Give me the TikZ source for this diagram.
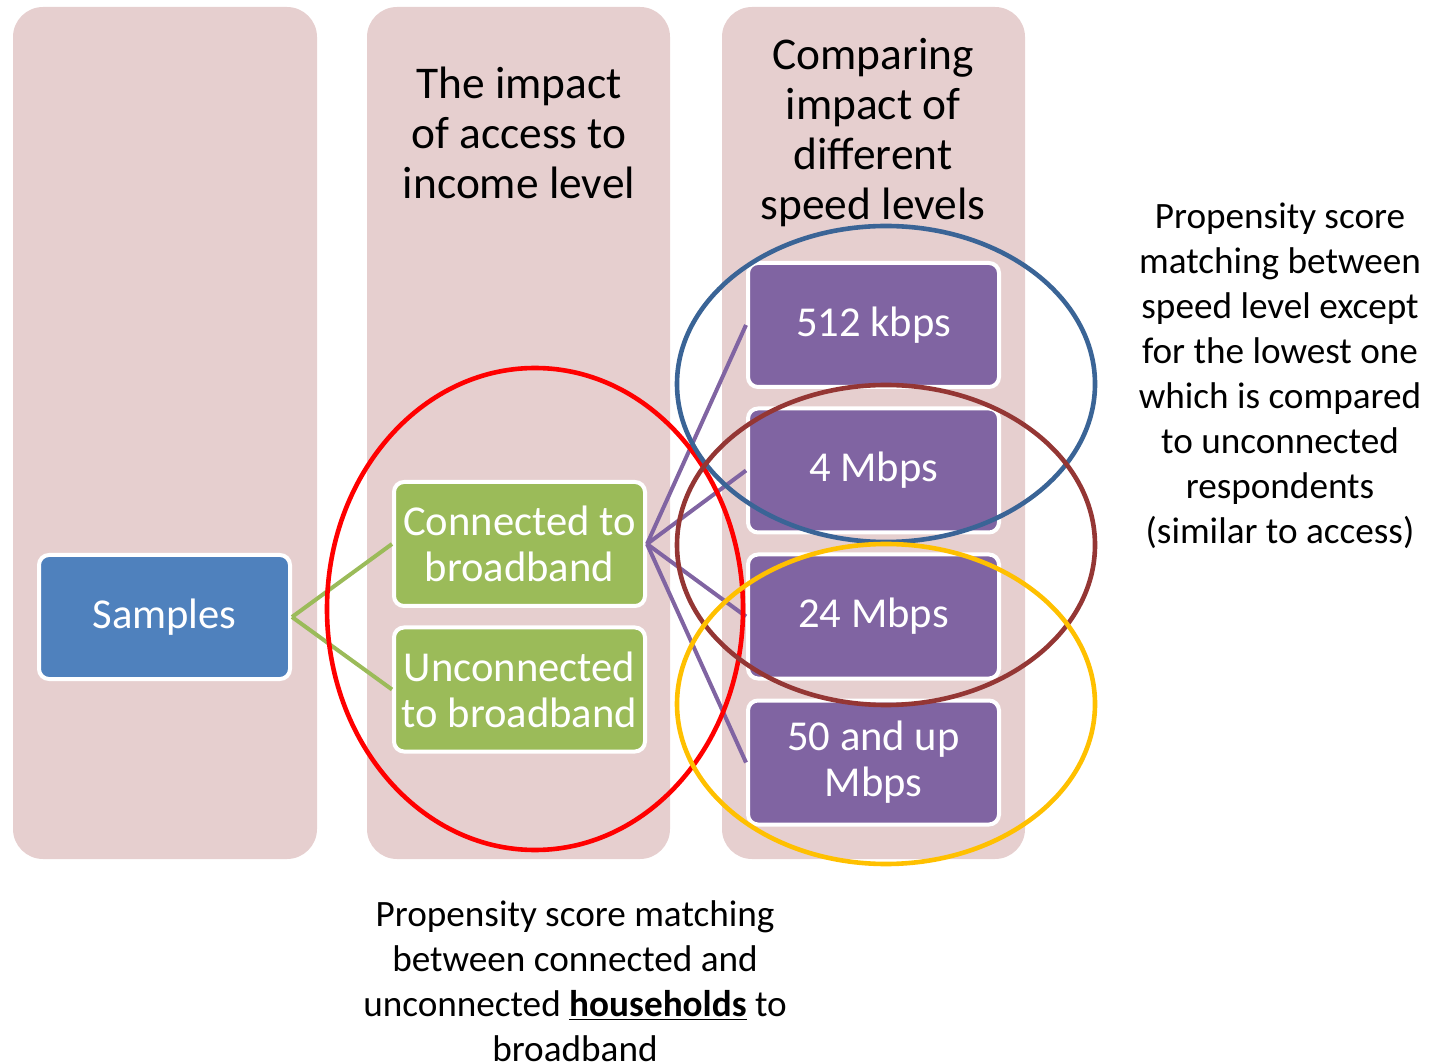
\documentclass[tikz,border=0pt]{standalone}
\usepackage{fontspec}
\setmainfont{Carlito}
\usetikzlibrary{shapes.geometric}
\definecolor{colbg}{HTML}{E6CFCF}
\definecolor{sblue}{HTML}{4F81BD}
\definecolor{sgreen}{HTML}{9BBB59}
\definecolor{spurple}{HTML}{8064A2}
\definecolor{eblue}{HTML}{3A6496}
\definecolor{ebrown}{HTML}{943634}
\definecolor{eyellow}{HTML}{FFC000}
\definecolor{ered}{HTML}{FF0000}
\tikzset{
  colbox/.style={fill=colbg, rounded corners=15pt},
  box/.style={draw=white, line width=2pt, rounded corners=5pt, minimum width=125.5pt, minimum height=62pt, text=white, align=center, font=\fontsize{21.3}{23}\selectfont, inner sep=0pt},
  bluebox/.style={box, fill=sblue},
  greenbox/.style={box, fill=sgreen},
  purplebox/.style={box, fill=spurple},
  title/.style={align=center, font=\fontsize{22.7}{25}\selectfont, text=black},
  note/.style={align=center, font=\fontsize{18.6}{22.5}\selectfont, text=black},
  glink/.style={draw=sgreen, line width=2pt},
  plink/.style={draw=spurple, line width=2pt},
  ring/.style={line width=2.3pt}
}
\begin{document}
\begin{tikzpicture}[x=0.5pt, y=-0.5pt]
\useasboundingbox (0,0) rectangle (1435,1063);
% columns
\fill[colbox] (13,7) rectangle (317,859);
\fill[colbox] (367,7) rectangle (670,859);
\fill[colbox] (722,7) rectangle (1025,859);
% titles
\node[title] (t2) at (519,133) {The impact\\of access to\\income level};
\node[title] (t3) at (873,133) {Comparing\\impact of\\different\\speed levels};
% boxes
\node[bluebox] (samp) at (164.5,617) {Samples};
\node[greenbox] (conn) at (519.5,544) {Connected to\\broadband};
\node[greenbox] (unconn) at (519.5,689.5) {Unconnected\\to broadband};
\node[purplebox] (s1) at (873.5,325) {512 kbps};
\node[purplebox] (s2) at (873.5,470.5) {4 Mbps};
\node[purplebox] (s3) at (873.5,616.5) {24 Mbps};
\node[purplebox] (s4) at (873.5,762.5) {50 and up\\Mbps};
% connectors
\draw[glink] (samp.east) -- (conn.west);
\draw[glink] (samp.east) -- (unconn.west);
\draw[plink] (conn.east) -- (s1.west);
\draw[plink] (conn.east) -- (s2.west);
\draw[plink] (conn.east) -- (s3.west);
\draw[plink] (conn.east) -- (s4.west);
% ellipses
\draw[ring, draw=ered] (535,609) ellipse (208 and 241);
\draw[ring, draw=eblue] (886,384) ellipse (209 and 158);
\draw[ring, draw=ebrown] (886,545) ellipse (209 and 160);
\draw[ring, draw=eyellow] (886,704) ellipse (209 and 160);
% notes
\node[note] (n1) at (1280,376) {Propensity score\\matching between\\speed level except\\for the lowest one\\which is compared\\to unconnected\\respondents\\(similar to access)};
\node[note] (n2) at (575,981) {Propensity score matching\\between connected and\\unconnected \underline{\textbf{households}} to\\broadband};
\end{tikzpicture}
\end{document}
